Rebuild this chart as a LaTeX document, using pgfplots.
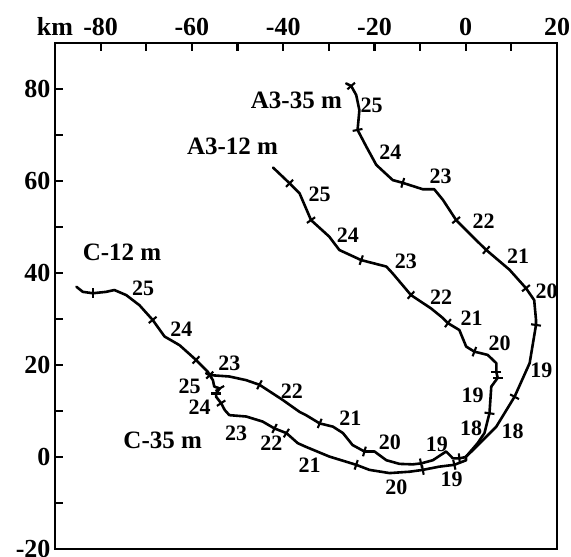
\documentclass[border=0pt]{standalone}
\usepackage{pgfplots}
\pgfplotsset{compat=1.18}
\usepackage{fontspec}
\setmainfont{Liberation Serif}
\pgfplotstableread{
x y
-26.2 81.2
-25.1 80.65
-24.0 78.7
-23.3 75.4
-23.7 71.1
-21.8 67.5
-19.6 63.5
-16.0 60.2
-13.8 59.6
-9.4 58.2
-6.9 58.2
-5.0 55.9
-2.1 51.5
1.5 47.9
4.5 45.0
9.6 40.7
13.2 36.7
15.0 34.1
15.4 29.8
15.4 28.7
14.0 20.4
10.7 13.1
6.7 6.6
2.3 2.2
0 0
}\athreefive
\pgfplotstableread{
x y a
-25.1 80.65 -49
-23.7 71.1 -79
-13.8 59.6 -17
-2.1 51.5 -51
4.5 45.0 -42
13.2 36.7 -51
15.4 28.7 -98
10.7 13.1 -118
}\athreefivet
\pgfplotstableread{
x y
-42.2 62.9
-38.6 59.5
-36.4 57.3
-33.9 51.5
-29.9 47.9
-27.7 45.0
-22.9 42.8
-17.4 41.4
-16.0 39.9
-12.0 35.2
-7.6 32.3
-5.0 30.2
-3.9 29.1
-1.4 27.6
0.1 24.0
1.9 22.9
4.8 22.2
6.7 20.4
6.7 18.5
7.0 17.2
5.6 15.3
5.2 9.5
4.1 5.2
2.6 3.0
0 0
}\athreetwelve
\pgfplotstableread{
x y a
-38.6 59.5 -44
-33.9 51.5 -55
-22.9 42.8 -19
-12.0 35.2 -42
-3.9 29.1 -36
1.9 22.9 -21
6.7 18.5 -90
7.0 17.2 -90
5.2 9.5 -98
}\athreetwelvet
\pgfplotstableread{
x y
-85.3 37.0
-83.9 35.9
-81.7 35.6
-78.8 35.9
-77.0 36.3
-74.4 35.2
-71.5 33.0
-68.6 29.8
-66.0 26.2
-62.7 24.3
-59.1 21.1
-56.5 18.5
-56.1 17.8
-51.8 17.5
-48.1 16.7
-45.2 15.7
-40.1 12.4
-36.4 9.8
-35.0 9.1
-32.0 7.3
-29.1 6.6
-26.9 5.2
-24.8 2.6
-22.2 1.2
-20.0 1.2
-17.4 -0.7
-14.5 -1.5
-11.6 -1.6
-9.8 -1.4
-7.2 -0.7
-4.3 1.2
-2.8 -0.3
-1.4 -0.3
0 0
}\ctwelve
\pgfplotstableread{
x y a
-81.7 35.6 0
-68.6 29.8 -51
-59.1 21.1 -43
-45.2 15.7 -28
-32.0 7.3 -23
-22.2 1.2 -16
-9.8 -1.4 12
-1.4 -0.3 6
}\ctwelvet
\pgfplotstableread{
x y
-56.9 18.2
-56.1 17.8
-55.4 16.7
-55.1 15.3
-53.9 14.9
-54.7 13.8
-54.7 13.1
-53.6 11.7
-52.8 10.2
-51.8 9.1
-48.1 8.8
-44.5 7.7
-41.9 6.2
-39.3 5.2
-36.8 3.0
-35.0 2.2
-29.9 0.1
-24.0 -1.7
-21.1 -2.8
-16.7 -3.5
-12.3 -3.2
-9.4 -2.8
-5.8 -2.1
-2.5 -1.7
0.1 -0.7
0 0
}\cthirtyfive
\pgfplotstableread{
x y a
-56.1 17.8 -45
-53.9 14.9 -60
-54.7 13.8 -90
-53.6 11.7 -57
-41.9 6.2 -26
-39.3 5.2 -32
-24.0 -1.7 -18
-9.4 -2.8 10
-2.5 -1.7 13
}\cthirtyfivet
\begin{document}
\begin{tikzpicture}
\begin{axis}[
  scale only axis, width=502pt, height=506pt,
  xmin=-90, xmax=20, ymin=-20, ymax=90,
  clip=false,
  axis line style={line width=2.8pt},
  tick align=inside,
  major tick length=8pt,
  tick style={line width=2.2pt, black},
  xtick={-90,-80,...,20},
  xticklabels={km,-80,,-60,,-40,,-20,,0,,20},
  xtick pos=right, xticklabel pos=right,
  ytick={-20,-10,...,90},
  yticklabels={-20,,0,,20,,40,,60,,80,},
  ytick pos=left,
  tick label style={font=\bfseries\fontsize{26}{26}\selectfont},
  xticklabel style={yshift=4pt},
  yticklabel style={xshift=-1pt},
]
\pgfplotsset{trajp/.style={black, line width=2.6pt, line join=round, line cap=round, no marks},
  tickp/.style={scatter, only marks, mark=|, mark size=5pt, line width=2.1pt,
    scatter/use mapped color={draw=black, fill=black},
    visualization depends on={\thisrow{a}\as\ang},
    scatter/@pre marker code/.append style={/tikz/rotate=\ang}}}
\addplot[trajp] table[x=x,y=y] {\athreefive};
\addplot[tickp] table[x=x,y=y] {\athreefivet};
\addplot[trajp] table[x=x,y=y] {\athreetwelve};
\addplot[tickp] table[x=x,y=y] {\athreetwelvet};
\addplot[trajp] table[x=x,y=y] {\ctwelve};
\addplot[tickp] table[x=x,y=y] {\ctwelvet};
\addplot[trajp] table[x=x,y=y] {\cthirtyfive};
\addplot[tickp] table[x=x,y=y] {\cthirtyfivet};
% series names
\begin{scope}[every node/.style={font=\bfseries\fontsize{25}{25}\selectfont, inner sep=0pt}]
\node at (axis cs:-37.1,77.6) {A3-35 m};
\node at (axis cs:-51.1,67.6) {A3-12 m};
\node at (axis cs:-75.3,44.5) {C-12 m};
\node at (axis cs:-66.4,3.7) {C-35 m};
\end{scope}
% day numbers
\begin{scope}[every node/.style={font=\bfseries\fontsize{22}{22}\selectfont, inner sep=0pt}]
% A3-35
\node at (axis cs:-20.6,76.5) {25};
\node at (axis cs:-16.5,66.3) {24};
\node at (axis cs:-5.5,61.1) {23};
\node at (axis cs:3.9,51.3) {22};
\node at (axis cs:11.5,43.6) {21};
\node at (axis cs:17.7,36.1) {20};
\node at (axis cs:16.6,18.9) {19};
\node at (axis cs:10.3,5.5) {18};
% A3-12
\node at (axis cs:-32.0,57.0) {25};
\node at (axis cs:-25.8,48.3) {24};
\node at (axis cs:-13.1,42.5) {23};
\node at (axis cs:-5.4,34.8) {22};
\node at (axis cs:1.3,30.2) {21};
\node at (axis cs:7.4,24.7) {20};
\node at (axis cs:1.5,13.5) {19};
\node at (axis cs:1.2,6.2) {18};
% C-12
\node at (axis cs:-70.7,36.7) {25};
\node at (axis cs:-62.3,27.8) {24};
\node at (axis cs:-51.8,20.4) {23};
\node at (axis cs:-38.1,14.3) {22};
\node at (axis cs:-25.3,8.5) {21};
\node at (axis cs:-16.6,3.1) {20};
\node at (axis cs:-6.3,2.8) {19};
% C-35
\node at (axis cs:-60.5,15.3) {25};
\node at (axis cs:-58.3,10.9) {24};
\node at (axis cs:-50.3,5.2) {23};
\node at (axis cs:-42.6,3.0) {22};
\node at (axis cs:-34.2,-1.7) {21};
\node at (axis cs:-15.2,-6.5) {20};
\node at (axis cs:-3.1,-4.8) {19};
\end{scope}
\end{axis}
\pgfresetboundingbox
\path ([shift={(-55pt,-8pt)}]current axis.south west) rectangle ([shift={(14pt,43pt)}]current axis.north east);
\end{tikzpicture}
\end{document}
